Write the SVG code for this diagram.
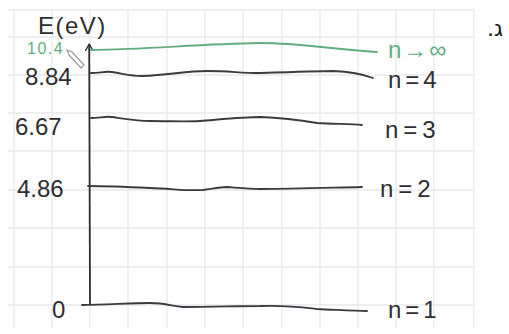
<svg xmlns="http://www.w3.org/2000/svg" width="509" height="334" viewBox="0 0 509 334">
<style>
.grid line{stroke:#e6e9ee;stroke-width:1.3}
.lvl{fill:none;stroke:#3b3b3b;stroke-width:1.8;stroke-linecap:round}
.lvl.g{stroke:#62ad7f}
.t{font-family:"Liberation Sans",Arial,sans-serif;fill:#2e2e2e;font-size:24px}
.tg{fill:#62ad7f}
.ax{font-size:24px}
.sm{font-size:16px}
</style>
<defs>
<marker id="arr" viewBox="0 0 10 10" refX="9" refY="5" markerWidth="9" markerHeight="9" orient="auto" markerUnits="userSpaceOnUse">
<path d="M2 1 L9 5 L2 9" fill="none" stroke="#2e2e2e" stroke-width="1.5" stroke-linecap="round" stroke-linejoin="round"/>
</marker>
</defs>
<rect width="509" height="334" fill="#ffffff"/>
<g class="grid">
<line x1="14" y1="10" x2="14" y2="328"/><line x1="52" y1="10" x2="52" y2="328"/>
<line x1="90" y1="10" x2="90" y2="328"/><line x1="128" y1="10" x2="128" y2="328"/>
<line x1="167" y1="10" x2="167" y2="328"/><line x1="205" y1="10" x2="205" y2="328"/>
<line x1="243" y1="10" x2="243" y2="328"/><line x1="282" y1="10" x2="282" y2="328"/>
<line x1="320" y1="10" x2="320" y2="328"/><line x1="358" y1="10" x2="358" y2="328"/>
<line x1="396" y1="10" x2="396" y2="328"/><line x1="434" y1="10" x2="434" y2="328"/>
<line x1="474" y1="10" x2="474" y2="328"/>
<line x1="8" y1="10" x2="474" y2="10"/><line x1="8" y1="37" x2="474" y2="37"/>
<line x1="8" y1="75" x2="474" y2="75"/><line x1="8" y1="113" x2="474" y2="113"/>
<line x1="8" y1="151" x2="474" y2="151"/><line x1="8" y1="190" x2="474" y2="190"/>
<line x1="8" y1="228" x2="474" y2="228"/><line x1="8" y1="267" x2="474" y2="267"/>
<line x1="8" y1="305" x2="474" y2="305"/>
</g>
<g id="connectors">
<path id="energy-axis" d="M90 305 C89.6 240 89.4 150 89.2 44" fill="none" stroke="#2e2e2e" stroke-width="1.8" marker-end="url(#arr)"/>
</g>
<g id="axis-label">
<text class="t ax" x="38" y="34" letter-spacing="1.5">E(eV)</text>
</g>
<g id="level-inf">
<path class="lvl g" d="M91 50 C150 49 200 44 260 43 C300 43 330 49 377 52"/>
<text class="t tg sm" x="27" y="54" letter-spacing="1.5">10.4</text>
<text class="t tg" x="388" y="58" letter-spacing="2">n→∞</text>
</g>
<g id="pencil">
<path d="M67 50 L72 52 L84 65 L81 68 L69 55 Z" fill="#ffffff" stroke="#9a9a9a" stroke-width="1.2" stroke-linejoin="round"/>
</g>
<g id="level-4">
<path class="lvl" d="M91 73 C100 73 105 71 112 72 C125 74 130 76 142 76 C170 75 185 71 207 71 C230 71 240 73 260 73 C290 72 320 71 333 71 C355 72 365 75 373 78"/>
<text class="t" x="25" y="85">8.84</text>
<text class="t" x="388" y="88" letter-spacing="4">n=4</text>
</g>
<g id="level-3">
<path class="lvl" d="M91 118 C100 118 105 116 112 117 C125 119 135 121 150 121 C170 121 185 122 200 121 C225 119 245 117 260 117 C285 118 305 121 317 123 C335 124 350 124 362 125"/>
<text class="t" x="15" y="135">6.67</text>
<text class="t" x="385" y="138" letter-spacing="5">n=3</text>
</g>
<g id="level-2">
<path class="lvl" d="M88 186 C110 186 130 187 150 188 C175 189 190 191 203 190 C212 189 218 187 227 187 C240 188 250 189 260 189 C290 189 320 188 362 187"/>
<text class="t" x="17" y="197">4.86</text>
<text class="t" x="380" y="197" letter-spacing="5">n=2</text>
</g>
<g id="level-1">
<path class="lvl" d="M82 305 C105 305 130 303 150 303 C165 303 172 306 183 307 C210 307 240 306 260 306 C285 305 300 307 317 309 C340 310 355 311 367 311"/>
<text class="t" x="52" y="318">0</text>
<text class="t" x="388" y="318" letter-spacing="4">n=1</text>
</g>
<g id="part-label">
<text x="495" y="36" font-family="'DejaVu Sans',sans-serif" font-size="22" fill="#1a1a1a" text-anchor="middle" direction="rtl">ג.</text>
</g>
</svg>
